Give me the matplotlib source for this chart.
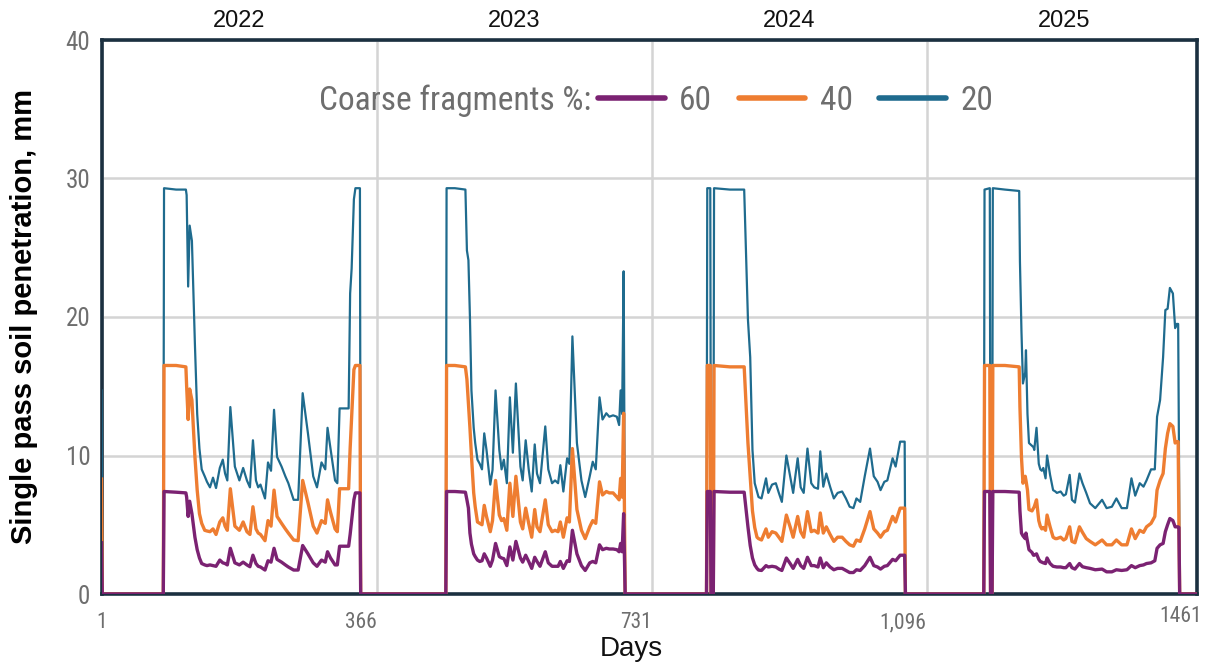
import matplotlib
matplotlib.use("Agg")
import matplotlib.pyplot as plt
from matplotlib import font_manager
from matplotlib.lines import Line2D
import numpy as np

# ---------------- data ----------------
series_labels = ["60", "40", "20"]          # coarse fragments %
year_labels = ["2022", "2023", "2024", "2025"]
year_bounds = [1, 366, 731, 1096, 1461]
tick_days = [1, 366, 731, 1096]
tick_labels = ["1", "366", "731", "1,096"]
last_tick_day = 1461
last_tick_label = "1461"

days_2022 = [1, 2, 83, 84, 100, 113, 114, 116, 118, 121,
             125, 128, 131, 134, 138, 141, 145, 149, 153, 158,
             162, 165, 168, 172, 178, 184, 189, 194, 198, 202,
             206, 209, 212, 218, 222, 226, 230, 234, 240, 245,
             249, 256, 262, 268, 275, 282, 287, 293, 298, 301,
             305, 311, 314, 317, 329, 331, 333, 336, 338, 344,
             345]
cf20_2022 = [14.7, 0, 0, 29.3, 29.2, 29.2, 28.8, 22.2, 26.6, 25.5,
             18.0, 13.0, 10.5, 9.0, 8.5, 8.1, 7.7, 8.4, 7.65, 9.1,
             9.7, 8.7, 8.2, 13.5, 9.2, 8.2, 9.1, 8.2, 7.7, 11.1,
             8.2, 7.7, 7.9, 6.9, 9.5, 8.9, 13.3, 9.9, 9.2, 8.5,
             8.0, 6.8, 6.8, 14.5, 11.6, 8.5, 7.7, 9.5, 9.0, 12.0,
             10.5, 8.2, 8.0, 13.4, 13.4, 21.7, 23.5, 28.5, 29.3, 29.3,
             0]
cf40_2022 = [8.3, 0, 0, 16.5, 16.5, 16.4, 15.0, 12.6, 14.8, 14.0,
             9.9, 7.5, 5.8, 5.1, 4.6, 4.55, 4.5, 4.7, 4.3, 5.2,
             5.5, 4.9, 4.6, 7.6, 4.9, 4.6, 5.2, 4.5, 4.3, 6.3,
             4.7, 4.4, 4.3, 3.85, 5.3, 4.9, 7.5, 5.6, 5.1, 4.7,
             4.4, 3.9, 3.85, 8.2, 6.6, 4.9, 4.4, 5.3, 5.1, 6.8,
             5.9, 4.7, 4.5, 7.6, 7.6, 10.5, 12.8, 16.2, 16.5, 16.5,
             0]
cf60_2022 = [3.7, 0, 0, 7.4, 7.35, 7.3, 7.0, 5.6, 6.7, 5.8,
             4.1, 3.2, 2.6, 2.2, 2.1, 2.05, 2.1, 2.05, 2.0, 2.45,
             2.25, 2.2, 2.1, 3.3, 2.25, 2.1, 2.3, 2.1, 1.97, 2.8,
             2.2, 2.0, 1.95, 1.73, 2.4, 2.3, 3.3, 2.5, 2.3, 2.1,
             1.95, 1.73, 1.73, 3.5, 2.9, 2.25, 2.0, 2.45, 2.3, 3.05,
             2.6, 2.1, 2.1, 3.45, 3.45, 4.3, 5.3, 6.8, 7.3, 7.3,
             0]

days_2023 = [458, 459, 470, 484, 486, 488, 490, 492, 495, 497,
             500, 503, 506, 509, 512, 517, 520, 524, 529, 532,
             535, 539, 543, 547, 551, 557, 560, 564, 568, 572,
             576, 579, 583, 590, 594, 599, 603, 607, 610, 614,
             619, 622, 626, 632, 638, 643, 649, 653, 657, 662,
             666, 671, 675, 680, 685, 688, 690, 692, 694, 696]
cf20_2023 = [0, 29.3, 29.3, 29.2, 24.8, 24.1, 20.0, 14.7, 12.0, 10.9,
             9.7, 9.4, 9.0, 11.6, 10.4, 7.9, 8.95, 14.7, 10.4, 9.0,
             9.7, 8.0, 14.2, 10.2, 15.2, 9.2, 8.2, 11.1, 9.0, 7.4,
             10.8, 8.7, 8.0, 12.1, 9.0, 8.0, 8.2, 8.0, 9.3, 7.4,
             9.8, 9.4, 18.6, 10.9, 8.2, 7.0, 8.5, 9.55, 9.0, 14.2,
             12.6, 13.05, 12.8, 12.9, 12.8, 12.2, 14.7, 13.0, 23.3, 0]
cf40_2023 = [0, 16.5, 16.5, 16.4, 15.5, 13.8, 12.0, 10.0, 7.3, 6.3,
             5.2, 5.1, 5.0, 6.4, 5.6, 4.5, 5.3, 8.2, 5.7, 5.3,
             5.45, 4.6, 8.0, 5.6, 8.5, 5.2, 4.7, 6.2, 5.1, 4.1,
             6.1, 4.85, 4.5, 6.8, 5.0, 4.5, 4.6, 4.5, 5.2, 4.1,
             5.5, 5.2, 10.5, 6.1, 4.6, 4.0, 4.85, 5.3, 5.1, 8.1,
             7.15, 7.4, 7.3, 7.3, 7.0, 6.8, 8.35, 7.0, 13.05, 0]
cf60_2023 = [0, 7.4, 7.4, 7.35, 6.8, 6.2, 4.4, 3.6, 2.9, 2.7,
             2.45, 2.35, 2.4, 2.9, 2.6, 2.0, 2.45, 3.65, 2.7, 2.6,
             2.55, 2.05, 3.4, 2.45, 3.8, 2.6, 2.3, 2.8, 2.35, 1.85,
             2.65, 2.35, 2.0, 3.05, 2.25, 2.0, 2.0, 2.0, 2.35, 1.85,
             2.4, 2.35, 4.6, 2.9, 2.05, 1.7, 2.25, 2.35, 2.25, 3.55,
             3.2, 3.3, 3.25, 3.25, 3.2, 3.05, 3.65, 3.05, 5.8, 0]

days_2024 = [804, 805, 809, 810, 813, 814, 835, 854, 859, 862,
             865, 868, 871, 873, 877, 883, 886, 891, 896, 900,
             904, 910, 915, 919, 925, 929, 933, 938, 943, 947,
             952, 955, 959, 963, 968, 973, 978, 984, 989, 994,
             999, 1003, 1008, 1014, 1021, 1026, 1031, 1035, 1040, 1044,
             1051, 1055, 1061, 1067, 1068]
cf20_2024 = [0, 29.3, 29.3, 0, 0, 29.3, 29.2, 29.2, 19.8, 17.1,
             10.4, 8.0, 7.4, 7.0, 6.9, 8.35, 7.3, 7.9, 8.0, 7.3,
             6.65, 10.0, 8.5, 7.3, 9.8, 7.7, 7.3, 10.5, 8.0, 7.7,
             7.6, 10.3, 7.75, 8.7, 7.75, 6.9, 7.3, 7.4, 6.9, 6.3,
             6.2, 6.9, 6.65, 8.5, 10.5, 8.5, 8.1, 7.5, 8.1, 8.2,
             9.8, 9.2, 11.0, 11.0, 0]
cf40_2024 = [0, 16.5, 16.5, 0, 0, 16.5, 16.4, 16.4, 10.9, 8.5,
             6.0, 4.8, 4.1, 4.0, 3.9, 4.7, 4.1, 4.5, 4.4, 4.1,
             3.8, 5.7, 4.85, 4.1, 5.6, 4.5, 4.1, 5.95, 4.5, 4.6,
             4.4, 5.85, 4.4, 4.85, 4.3, 3.8, 4.1, 4.1, 3.8, 3.55,
             3.45, 3.9, 3.8, 4.7, 5.95, 4.7, 4.4, 4.1, 4.5, 4.6,
             5.6, 5.2, 6.2, 6.2, 0]
cf60_2024 = [0, 7.4, 7.4, 0, 0, 7.4, 7.35, 7.35, 4.85, 3.5,
             2.6, 2.1, 1.85, 1.73, 1.7, 2.05, 1.95, 2.0, 1.95, 1.8,
             1.7, 2.6, 2.2, 1.85, 2.5, 2.05, 1.85, 2.65, 2.05, 2.05,
             1.95, 2.6, 1.9, 2.25, 1.95, 1.75, 1.85, 1.85, 1.7, 1.55,
             1.55, 1.75, 1.7, 2.05, 2.65, 2.05, 1.95, 1.8, 2.0, 2.05,
             2.5, 2.4, 2.8, 2.8, 0]

days_2025 = [1172, 1173, 1180, 1181, 1183, 1184, 1200, 1219, 1220, 1222,
             1224, 1227, 1228, 1230, 1232, 1236, 1238, 1239, 1242, 1245,
             1247, 1249, 1251, 1254, 1256, 1260, 1264, 1267, 1269, 1274,
             1278, 1281, 1286, 1289, 1293, 1299, 1303, 1308, 1313, 1320,
             1329, 1335, 1342, 1348, 1355, 1362, 1368, 1373, 1379, 1384,
             1388, 1394, 1399, 1402, 1406, 1410, 1413, 1416, 1419, 1423,
             1426, 1428, 1430, 1431, 1432, 1455]
cf20_2025 = [0, 29.2, 29.3, 0, 0, 29.3, 29.2, 29.1, 24.0, 19.0,
             15.2, 16.0, 17.6, 13.0, 10.9, 10.7, 10.6, 10.4, 12.0, 9.4,
             9.0, 8.9, 9.1, 8.35, 10.0, 8.6, 7.5, 7.4, 7.3, 7.4,
             7.1, 7.2, 8.6, 6.8, 6.6, 8.7, 8.0, 7.3, 6.55, 6.2,
             6.8, 6.2, 6.3, 6.9, 6.2, 6.2, 8.35, 7.1, 8.0, 7.75,
             8.2, 9.0, 9.0, 12.8, 14.0, 17.1, 20.5, 20.6, 22.1, 21.7,
             19.2, 19.5, 19.5, 11.0, 0, 0]
cf40_2025 = [0, 16.5, 16.5, 0, 0, 16.5, 16.5, 16.4, 13.5, 9.9,
             8.0, 8.5, 8.2, 7.5, 6.1, 6.0, 6.2, 6.3, 6.8, 5.3,
             4.9, 4.7, 4.8, 4.6, 5.7, 4.85, 4.1, 4.0, 4.0, 4.1,
             3.9, 4.0, 4.85, 3.8, 3.7, 4.85, 4.45, 4.0, 3.8, 3.55,
             3.9, 3.55, 3.55, 3.9, 3.55, 3.55, 4.7, 4.0, 4.6, 4.45,
             4.85, 5.1, 5.6, 7.5, 8.2, 8.7, 10.5, 11.6, 12.3, 12.1,
             10.9, 11.0, 11.0, 5.0, 0, 0]
cf60_2025 = [0, 7.4, 7.4, 0, 0, 7.4, 7.4, 7.35, 6.0, 4.4,
             4.2, 4.0, 4.4, 3.8, 3.2, 3.0, 2.8, 2.8, 2.9, 2.5,
             2.35, 2.3, 2.25, 2.2, 2.6, 2.2, 2.0, 1.97, 1.95, 1.95,
             1.9, 1.9, 2.2, 1.9, 1.8, 2.2, 1.97, 1.9, 1.85, 1.75,
             1.8, 1.6, 1.6, 1.75, 1.7, 1.75, 2.05, 1.9, 2.05, 2.1,
             2.2, 2.25, 2.4, 3.3, 3.55, 3.65, 4.5, 5.0, 5.45, 5.3,
             4.85, 4.85, 4.85, 4.8, 0, 0]

days = days_2022 + days_2023 + days_2024 + days_2025
cf20 = cf20_2022 + cf20_2023 + cf20_2024 + cf20_2025
cf40 = cf40_2022 + cf40_2023 + cf40_2024 + cf40_2025
cf60 = cf60_2022 + cf60_2023 + cf60_2024 + cf60_2025
assert len(days) == len(cf20) == len(cf40) == len(cf60), (len(days), len(cf20), len(cf40), len(cf60))

# ---------------- fonts ----------------
installed = {f.name for f in font_manager.fontManager.ttflist}
def pick(cands):
    for c in cands:
        if c in installed:
            return c
    return "DejaVu Sans"
narrow = pick(["Liberation Sans Narrow", "Roboto Condensed", "Open Sans Condensed", "Roboto", "Liberation Sans"])
regular = pick(["Liberation Sans", "Roboto", "Open Sans", "DejaVu Sans"])

# ---------------- styles ----------------
c60, c40, c20 = "#7b2272", "#ee7d31", "#1f6b8e"
spine_col = "#1b3040"
grid_col = "#d4d4d4"
tick_col = "#6e6e6e"

W, H = 1209, 664
fig = plt.figure(figsize=(W / 100, H / 100), dpi=100)
x0, x1, y0, y1 = 101.5, 1197, 40, 594
ax = fig.add_axes([x0 / W, 1 - y1 / H, (x1 - x0) / W, (y1 - y0) / H])

ax.plot(days, cf20, color=c20, lw=1.6, zorder=3, solid_joinstyle="round")
ax.plot(days, cf40, color=c40, lw=2.4, zorder=3.1, solid_joinstyle="round")
ax.plot(days, cf60, color=c60, lw=2.4, zorder=3.2, solid_joinstyle="round")

ax.set_xlim(1, 1455)
ax.set_ylim(0, 40)
ax.set_yticks([0, 10, 20, 30, 40])
ax.set_xticks(tick_days)
ax.set_xticklabels(tick_labels)
ax.grid(True, color=grid_col, lw=1.8, zorder=0)
ax.set_axisbelow(True)
for s in ax.spines.values():
    s.set_color(spine_col)
    s.set_linewidth(2.6)

ax.tick_params(axis="both", length=0, colors=tick_col)
ax.tick_params(axis="y", labelsize=18, pad=8)
ax.tick_params(axis="x", labelsize=15.5, pad=13)
for lbl in ax.get_yticklabels():
    lbl.set_fontfamily(narrow)
for i, lbl in enumerate(ax.get_xticklabels()):
    lbl.set_fontfamily(narrow)
    if i > 0:
        lbl.set_ha("right")

ax.text(last_tick_day, -0.022, last_tick_label, transform=ax.get_xaxis_transform(),
        ha="right", va="top", fontsize=15.5, color=tick_col, family=narrow, clip_on=False)

# year labels above the plot
for i, yl in enumerate(year_labels):
    mid = (year_bounds[i] + year_bounds[i + 1]) / 2
    ax.text(mid, 1.034, yl, transform=ax.get_xaxis_transform(), ha="center", va="center",
            fontsize=17, color="#111111", family=regular)

ax.set_ylabel("Single pass soil penetration, mm", fontsize=21, fontweight="bold",
              family=regular, color="black")
ax.yaxis.set_label_coords(-0.058, 0.5)
ax.set_xlabel("Days", fontsize=20, family=regular, color="#111111")
ax.xaxis.set_label_coords(0.484, -0.076)

# legend
handles = [Line2D([], [], color=c, lw=4, solid_capstyle="round") for c in (c60, c40, c20)]
leg = fig.legend(handles, series_labels, loc="center left", ncol=3,
                 bbox_to_anchor=(598 / W, 1 - 101 / H), frameon=False,
                 prop={"family": narrow, "size": 24}, labelcolor=tick_col,
                 handlelength=2.0, handletextpad=0.43, columnspacing=0.8,
                 borderpad=0, borderaxespad=0)
fig.text(591 / W, 1 - 101 / H, "Coarse fragments %:", ha="right", va="center",
         fontsize=24, family=narrow, color=tick_col)

fig.savefig("out.png", dpi=100)
